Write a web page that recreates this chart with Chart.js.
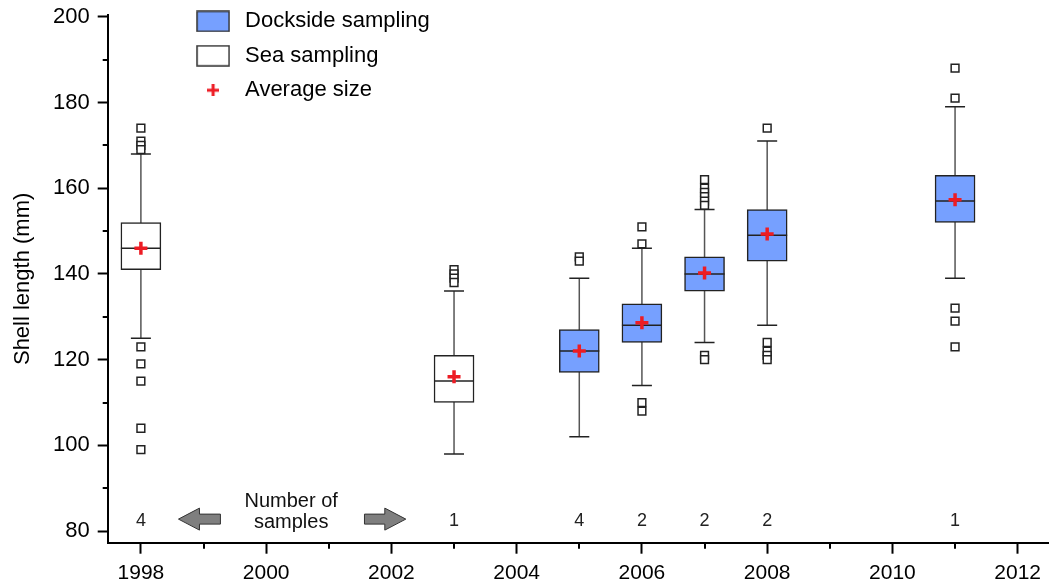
<!DOCTYPE html>
<html>
<head>
<meta charset="utf-8">
<script src="https://cdn.jsdelivr.net/npm/chart.js@4.4.1/dist/chart.umd.min.js"></script>
<style>
  html, body { margin: 0; padding: 0; background: #fff; }
</style>
</head>
<body>
<canvas id="chart" width="1049" height="584"></canvas>
<script>
// sampling years and which campaign they come from
const years       = [1998, 2003, 2005, 2006, 2007, 2008, 2011];
const method      = ['sea', 'sea', 'dock', 'dock', 'dock', 'dock', 'dock'];
// box statistics (mm)
const whiskerLow  = [125, 98, 102, 114, 124, 128, 139];
const q1          = [141, 110, 117, 124, 136, 143, 152];
const medians     = [146, 115, 122, 128, 140, 149, 157];
const means       = [146, 116, 122, 128.6, 140.2, 149.3, 157.3];
const q3          = [152, 121, 127, 133, 144, 155, 163];
const whiskerHigh = [168, 136, 139, 146, 155, 171, 179];
const outliers    = [
  [174, 171, 170, 169, 123, 119, 115, 104, 99],
  [141, 140, 139, 138],
  [144, 143],
  [151, 147, 110, 108],
  [162, 160, 159, 158, 157, 156, 121, 120],
  [174, 124, 122, 121, 120],
  [188, 181, 132, 129, 123]
];
const sampleCounts = [4, 1, 4, 2, 2, 2, 1];

const xTicks = [1998, 2000, 2002, 2004, 2006, 2008, 2010, 2012];
const xMinor = [1999, 2001, 2003, 2005, 2007, 2009, 2011];
const yTicks = [80, 100, 120, 140, 160, 180, 200];
const yMinor = [90, 110, 130, 150, 170, 190];

const FONT = '"Liberation Sans", Arial, sans-serif';
const BLUE = 'rgb(118,160,255)';
const RED = 'rgb(237,28,36)';

const boxData = kind => years
  .map((yr, i) => method[i] === kind ? {x: yr, y: [q1[i], q3[i]]} : null)
  .filter(Boolean);

const whiskerData = [];
years.forEach((yr, i) => {
  whiskerData.push({x: yr, y: whiskerLow[i]}, {x: yr, y: whiskerHigh[i]}, {x: yr, y: null});
});
const capData = years.flatMap((yr, i) => [{x: yr, y: whiskerLow[i]}, {x: yr, y: whiskerHigh[i]}]);
const medianData = years.map((yr, i) => ({x: yr, y: medians[i]}));
const meanData = years.map((yr, i) => ({x: yr, y: means[i]}));
const outlierData = years.flatMap((yr, i) => outliers[i].map(v => ({x: yr, y: v})));

// legend icons
function boxIcon(fill) {
  const c = document.createElement('canvas');
  c.width = 34; c.height = 22;
  const g = c.getContext('2d');
  g.fillStyle = fill;
  g.fillRect(1, 1, 32, 20);
  g.strokeStyle = '#333';
  g.lineWidth = 1.5;
  g.strokeRect(1, 1, 32, 20);
  return c;
}
function crossIcon() {
  const c = document.createElement('canvas');
  c.width = 12; c.height = 12;
  const g = c.getContext('2d');
  g.strokeStyle = RED;
  g.lineWidth = 3;
  g.beginPath();
  g.moveTo(0, 6); g.lineTo(12, 6);
  g.moveTo(6, 0); g.lineTo(6, 12);
  g.stroke();
  return c;
}

// moves the legend to the upper left of the plot
const legendSpot = {
  id: 'legendSpot',
  afterLayout(chart) {
    const lg = chart.legend;
    const area = chart.chartArea;
    lg.left = area.left + 72;
    lg.top = area.top - 17;
    lg.right = lg.left + 300;
    lg.bottom = lg.top + 130;
  }
};

function arrow(ctx, tail, tip, cy) {
  const dir = Math.sign(tip - tail);
  const head = 21 * dir;
  ctx.beginPath();
  ctx.moveTo(tip, cy);
  ctx.lineTo(tip - head, cy - 11);
  ctx.lineTo(tip - head, cy - 5);
  ctx.lineTo(tail, cy - 5);
  ctx.lineTo(tail, cy + 5);
  ctx.lineTo(tip - head, cy + 5);
  ctx.lineTo(tip - head, cy + 11);
  ctx.closePath();
  ctx.fill();
  ctx.stroke();
}

const annotations = {
  id: 'annotations',
  afterDatasetsDraw(chart) {
    const {ctx, chartArea, scales: {x, y}} = chart;
    ctx.save();
    // minor ticks
    ctx.strokeStyle = '#000';
    ctx.lineWidth = 2;
    xMinor.forEach(v => {
      const px = Math.round(x.getPixelForValue(v));
      ctx.beginPath();
      ctx.moveTo(px, chartArea.bottom);
      ctx.lineTo(px, chartArea.bottom + 6);
      ctx.stroke();
    });
    yMinor.forEach(v => {
      const py = Math.round(y.getPixelForValue(v));
      ctx.beginPath();
      ctx.moveTo(chartArea.left, py);
      ctx.lineTo(chartArea.left - 5, py);
      ctx.stroke();
    });
    // number of samples
    ctx.fillStyle = '#222';
    ctx.textAlign = 'center';
    ctx.textBaseline = 'middle';
    ctx.font = '18px ' + FONT;
    const countY = y.getPixelForValue(82.3);
    years.forEach((yr, i) => ctx.fillText(String(sampleCounts[i]), x.getPixelForValue(yr), countY));
    ctx.font = '20px ' + FONT;
    ctx.fillStyle = '#111';
    const tx = x.getPixelForValue(2000.4);
    ctx.fillText('Number of', tx, y.getPixelForValue(86.8));
    ctx.fillText('samples', tx, y.getPixelForValue(81.9));
    ctx.fillStyle = '#7f7f7f';
    ctx.strokeStyle = '#333';
    ctx.lineWidth = 1;
    const ay = y.getPixelForValue(82.8);
    arrow(ctx, x.getPixelForValue(1999.27), x.getPixelForValue(1998.6), ay);
    arrow(ctx, x.getPixelForValue(2001.57), x.getPixelForValue(2002.23), ay);
    ctx.restore();
  }
};

new Chart(document.getElementById('chart'), {
  type: 'bar',
  data: {
    datasets: [
      {
        type: 'bar',
        label: 'Dockside sampling',
        data: boxData('dock'),
        backgroundColor: BLUE,
        borderColor: '#222',
        borderWidth: 1.5,
        borderSkipped: false,
        barThickness: 40,
        grouped: false,
        order: 2
      },
      {
        type: 'bar',
        label: 'Sea sampling',
        data: boxData('sea'),
        backgroundColor: '#fff',
        borderColor: '#222',
        borderWidth: 1.5,
        borderSkipped: false,
        barThickness: 40,
        grouped: false,
        order: 2
      },
      {
        type: 'scatter',
        label: 'Average size',
        data: meanData,
        pointStyle: 'cross',
        pointRadius: 6.5,
        pointHoverRadius: 6.5,
        pointBorderWidth: 3.5,
        pointBorderColor: RED,
        order: 0
      },
      {
        type: 'scatter',
        label: 'Median',
        data: medianData,
        pointStyle: 'line',
        pointRadius: 20,
        pointHoverRadius: 20,
        pointBorderWidth: 1.5,
        pointBorderColor: '#222',
        order: 1
      },
      {
        type: 'line',
        label: 'Whiskers',
        data: whiskerData,
        borderColor: '#555',
        borderWidth: 1.5,
        pointRadius: 0,
        spanGaps: false,
        fill: false,
        order: 5
      },
      {
        type: 'scatter',
        label: 'Caps',
        data: capData,
        pointStyle: 'line',
        pointRadius: 10,
        pointHoverRadius: 10,
        pointBorderWidth: 1.5,
        pointBorderColor: '#222',
        order: 3
      },
      {
        type: 'scatter',
        label: 'Outliers',
        data: outlierData,
        pointStyle: 'rect',
        pointRadius: 5.5,
        pointHoverRadius: 5.5,
        pointBorderWidth: 1.5,
        pointBorderColor: '#222',
        pointBackgroundColor: '#fff',
        order: 3
      }
    ]
  },
  options: {
    responsive: false,
    animation: false,
    devicePixelRatio: 1,
    layout: {autoPadding: false, padding: {left: 0, right: 0, top: 15, bottom: 0}},
    scales: {
      x: {
        type: 'linear',
        min: 1997.47,
        max: 2012.5,
        offset: false,
        afterBuildTicks: scale => { scale.ticks = xTicks.map(v => ({value: v})); },
        afterFit: scale => { scale.paddingLeft = 0; scale.paddingRight = 0; scale.height = 41.3; },
        grid: {offset: false, drawOnChartArea: false, drawTicks: true, tickLength: 11, tickWidth: 2, tickColor: '#000'},
        border: {display: true, color: '#000', width: 2},
        ticks: {
          color: '#000',
          font: {family: FONT, size: 21},
          padding: 7,
          maxRotation: 0,
          callback: v => String(v)
        }
      },
      y: {
        type: 'linear',
        min: 77.3,
        max: 200.4,
        afterBuildTicks: scale => { scale.ticks = yTicks.map(v => ({value: v})); },
        afterFit: scale => { scale.width = 107.7; scale.paddingTop = 0; scale.paddingBottom = 0; },
        grid: {drawOnChartArea: false, drawTicks: true, tickLength: 10, tickWidth: 2, tickColor: '#000'},
        border: {display: true, color: '#000', width: 2},
        ticks: {
          color: '#000',
          font: {family: FONT, size: 22},
          padding: 8
        },
        title: {
          display: true,
          text: 'Shell length (mm)',
          color: '#000',
          font: {family: FONT, size: 22},
          padding: {top: 10, bottom: 0}
        }
      }
    },
    plugins: {
      tooltip: {enabled: false},
      legend: {
        position: 'chartArea',
        align: 'start',
        labels: {
          usePointStyle: true,
          pointStyleWidth: 42,
          boxHeight: 22,
          padding: 12.4,
          color: '#000',
          font: {family: FONT, size: 22},
          generateLabels: () => [
            {text: 'Dockside sampling', pointStyle: boxIcon(BLUE), fillStyle: BLUE, strokeStyle: '#333', lineWidth: 0, hidden: false, datasetIndex: 0, fontColor: '#000'},
            {text: 'Sea sampling', pointStyle: boxIcon('#fff'), fillStyle: '#fff', strokeStyle: '#333', lineWidth: 0, hidden: false, datasetIndex: 1, fontColor: '#000'},
            {text: 'Average size', pointStyle: crossIcon(), fillStyle: RED, strokeStyle: RED, lineWidth: 0, hidden: false, datasetIndex: 2, fontColor: '#000'}
          ]
        }
      }
    }
  },
  plugins: [legendSpot, annotations]
});
</script>
</body>
</html>
